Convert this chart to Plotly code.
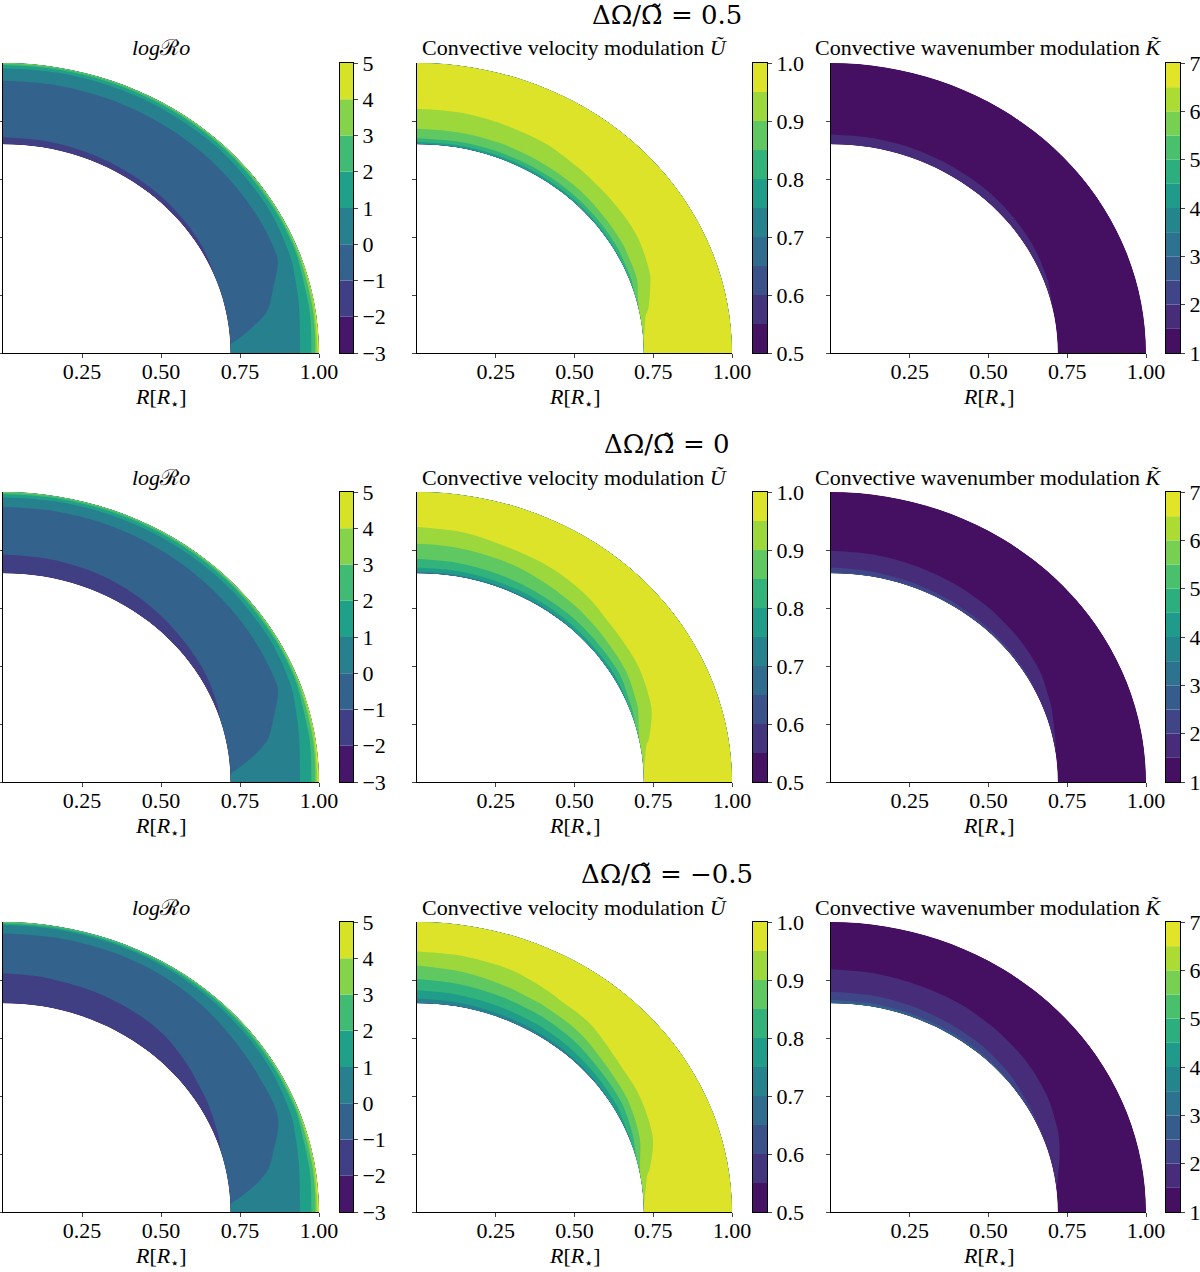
import numpy as np
import plotly.graph_objects as go
from plotly.colors import sample_colorscale

# grid: latitude (deg, from the equator) and radius (R/R*)
LATITUDE = [0, 10, 20, 30, 40, 50, 60, 70, 80, 90]
RADIUS_RO = [0.72, 0.76, 0.82, 0.88, 0.93, 0.96, 0.98, 0.99, 1.00]
RADIUS_UK = [0.72, 0.73, 0.75, 0.78, 0.82, 0.86, 0.90, 0.95, 1.00]

ROW_TITLES = ["ΔΩ/Ω̃ = 0.5", "ΔΩ/Ω̃ = 0", "ΔΩ/Ω̃ = −0.5"]
PANEL_TITLES = [
    "<i>log</i>ℛ<i>o</i>",
    "Convective velocity modulation <i>Ũ</i>",
    "Convective wavenumber modulation <i>K̃</i>",
]
XTICKS = [0.25, 0.5, 0.75, 1.0]
XTICK_TEXT = ["0.25", "0.50", "0.75", "1.00"]
YTICKS = [0, 0.2, 0.4, 0.6, 0.8]

# contour levels (start, end, step) and colorbar ticks per column
LEVELS = [(-3, 5, 1), (0.5, 1.0, 0.05), (1, 7, 0.5)]
CBAR_TICKS = [
    [-3, -2, -1, 0, 1, 2, 3, 4, 5],
    [0.5, 0.6, 0.7, 0.8, 0.9, 1.0],
    [1, 2, 3, 4, 5, 6, 7],
]
CBAR_FORMAT = ["d", ".1f", "d"]

# log Ro, rows = LATITUDE, columns = RADIUS_RO
logro_pos = [
    [0.22, 0.36, 0.45, 0.6, 0.85, 1.35, 2.2, 3.2, 4.8],
    [-0.72, -0.45, -0.12, 0.12, 0.6, 1.2, 1.9, 2.7, 4.4],
    [-1.02, -0.56, -0.4, -0.17, 0.02, 0.85, 1.25, 2.1, 4.1],
    [-1.17, -0.5, -0.42, -0.25, -0.07, 0.72, 1.07, 1.85, 3.85],
    [-1.28, -0.5, -0.41, -0.27, -0.09, 0.68, 1.03, 1.7, 3.7],
    [-1.38, -0.52, -0.41, -0.28, -0.11, 0.62, 0.95, 1.55, 3.6],
    [-1.45, -0.54, -0.41, -0.28, -0.13, 0.56, 0.92, 1.48, 3.5],
    [-1.52, -0.58, -0.43, -0.29, -0.14, 0.48, 0.91, 1.45, 3.45],
    [-1.58, -0.62, -0.44, -0.3, -0.15, 0.43, 0.9, 1.42, 3.42],
    [-1.6, -0.64, -0.45, -0.3, -0.15, 0.41, 0.9, 1.4, 3.4],
]
logro_zero = [
    [0.22, 0.36, 0.45, 0.6, 0.85, 1.35, 2.2, 3.2, 4.8],
    [-0.75, -0.47, -0.13, 0.12, 0.6, 1.2, 1.9, 2.7, 4.4],
    [-1.08, -0.62, -0.42, -0.19, 0.015, 0.82, 1.23, 2.1, 4.1],
    [-1.3, -0.76, -0.48, -0.27, -0.07, 0.66, 1.07, 1.85, 3.85],
    [-1.42, -0.88, -0.51, -0.32, -0.12, 0.52, 1.02, 1.7, 3.7],
    [-1.52, -1.02, -0.54, -0.36, -0.17, 0.38, 0.96, 1.58, 3.6],
    [-1.6, -1.12, -0.56, -0.38, -0.2, 0.27, 0.93, 1.5, 3.5],
    [-1.65, -1.22, -0.58, -0.39, -0.23, 0.2, 0.91, 1.47, 3.45],
    [-1.68, -1.27, -0.59, -0.4, -0.24, 0.17, 0.9, 1.46, 3.42],
    [-1.7, -1.3, -0.6, -0.4, -0.25, 0.15, 0.9, 1.45, 3.4],
]
logro_neg = [
    [0.22, 0.36, 0.45, 0.6, 0.85, 1.35, 2.2, 3.2, 4.8],
    [-0.76, -0.48, -0.14, 0.12, 0.6, 1.2, 1.9, 2.7, 4.4],
    [-1.1, -0.68, -0.46, -0.21, 0.01, 0.8, 1.2, 2.05, 4.1],
    [-1.35, -0.88, -0.56, -0.34, -0.1, 0.55, 1.02, 1.75, 3.8],
    [-1.52, -1.08, -0.68, -0.42, -0.18, 0.3, 0.85, 1.5, 3.55],
    [-1.63, -1.26, -0.82, -0.5, -0.26, 0.1, 0.7, 1.25, 3.4],
    [-1.7, -1.35, -0.9, -0.55, -0.3, 0.01, 0.62, 1.12, 3.3],
    [-1.75, -1.4, -0.95, -0.58, -0.33, -0.01, 0.58, 1.06, 3.25],
    [-1.78, -1.43, -0.99, -0.59, -0.34, -0.02, 0.56, 1.04, 3.22],
    [-1.8, -1.45, -1.02, -0.6, -0.35, -0.02, 0.55, 1.03, 3.2],
]

# convective velocity modulation U, rows = LATITUDE, columns = RADIUS_UK
u_pos = [
    [0.96, 0.965, 0.97, 0.973, 0.976, 0.979, 0.984, 0.99, 0.995],
    [0.92, 0.945, 0.958, 0.964, 0.97, 0.975, 0.982, 0.99, 0.995],
    [0.815, 0.873, 0.912, 0.947, 0.962, 0.972, 0.98, 0.99, 0.995],
    [0.78, 0.84, 0.895, 0.93, 0.96, 0.972, 0.98, 0.99, 0.995],
    [0.765, 0.83, 0.89, 0.924, 0.957, 0.971, 0.98, 0.99, 0.995],
    [0.755, 0.82, 0.885, 0.916, 0.952, 0.97, 0.98, 0.99, 0.995],
    [0.751, 0.816, 0.883, 0.912, 0.945, 0.967, 0.98, 0.99, 0.995],
    [0.745, 0.814, 0.882, 0.908, 0.942, 0.965, 0.98, 0.99, 0.995],
    [0.742, 0.812, 0.881, 0.906, 0.937, 0.963, 0.98, 0.99, 0.995],
    [0.74, 0.81, 0.88, 0.905, 0.935, 0.962, 0.98, 0.99, 0.995],
]
u_zero = [
    [0.96, 0.965, 0.97, 0.973, 0.976, 0.979, 0.984, 0.99, 0.995],
    [0.915, 0.943, 0.956, 0.963, 0.97, 0.976, 0.982, 0.99, 0.995],
    [0.802, 0.862, 0.907, 0.945, 0.965, 0.974, 0.98, 0.988, 0.993],
    [0.76, 0.81, 0.87, 0.925, 0.96, 0.972, 0.979, 0.987, 0.992],
    [0.745, 0.802, 0.857, 0.908, 0.952, 0.966, 0.975, 0.986, 0.991],
    [0.732, 0.79, 0.845, 0.89, 0.94, 0.962, 0.97, 0.985, 0.99],
    [0.728, 0.783, 0.84, 0.88, 0.922, 0.957, 0.968, 0.984, 0.99],
    [0.725, 0.777, 0.836, 0.87, 0.91, 0.951, 0.965, 0.982, 0.99],
    [0.722, 0.772, 0.832, 0.864, 0.903, 0.944, 0.962, 0.98, 0.99],
    [0.72, 0.77, 0.83, 0.86, 0.898, 0.94, 0.96, 0.98, 0.99],
]
u_neg = [
    [0.96, 0.965, 0.97, 0.973, 0.976, 0.979, 0.984, 0.99, 0.995],
    [0.905, 0.94, 0.955, 0.962, 0.969, 0.975, 0.981, 0.989, 0.994],
    [0.79, 0.842, 0.896, 0.943, 0.962, 0.972, 0.978, 0.988, 0.993],
    [0.752, 0.79, 0.848, 0.915, 0.958, 0.969, 0.976, 0.986, 0.992],
    [0.73, 0.772, 0.83, 0.893, 0.948, 0.966, 0.973, 0.985, 0.991],
    [0.715, 0.76, 0.81, 0.862, 0.922, 0.958, 0.967, 0.982, 0.99],
    [0.708, 0.752, 0.798, 0.846, 0.905, 0.948, 0.963, 0.98, 0.99],
    [0.702, 0.746, 0.791, 0.837, 0.892, 0.933, 0.959, 0.978, 0.99],
    [0.695, 0.74, 0.785, 0.827, 0.88, 0.92, 0.955, 0.976, 0.99],
    [0.69, 0.735, 0.78, 0.82, 0.87, 0.91, 0.952, 0.975, 0.99],
]

# convective wavenumber modulation K, rows = LATITUDE, columns = RADIUS_UK
k_pos = [
    [1.33, 1.3, 1.27, 1.24, 1.2, 1.17, 1.14, 1.12, 1.1],
    [1.45, 1.38, 1.32, 1.27, 1.21, 1.17, 1.14, 1.12, 1.1],
    [1.72, 1.52, 1.38, 1.3, 1.23, 1.18, 1.15, 1.12, 1.1],
    [1.86, 1.6, 1.42, 1.32, 1.24, 1.19, 1.15, 1.12, 1.1],
    [1.93, 1.65, 1.45, 1.33, 1.24, 1.19, 1.15, 1.12, 1.1],
    [1.98, 1.69, 1.48, 1.34, 1.25, 1.2, 1.15, 1.12, 1.1],
    [2.02, 1.71, 1.495, 1.345, 1.25, 1.2, 1.15, 1.12, 1.1],
    [2.03, 1.72, 1.51, 1.35, 1.25, 1.2, 1.15, 1.12, 1.1],
    [2.04, 1.74, 1.515, 1.35, 1.25, 1.2, 1.15, 1.12, 1.1],
    [2.05, 1.75, 1.52, 1.35, 1.25, 1.2, 1.15, 1.12, 1.1],
]
k_zero = [
    [1.33, 1.3, 1.27, 1.24, 1.2, 1.17, 1.14, 1.12, 1.1],
    [1.55, 1.45, 1.37, 1.3, 1.24, 1.2, 1.16, 1.13, 1.1],
    [1.9, 1.6, 1.47, 1.37, 1.3, 1.24, 1.19, 1.15, 1.11],
    [2.2, 1.8, 1.58, 1.43, 1.33, 1.27, 1.21, 1.15, 1.11],
    [2.4, 1.88, 1.66, 1.47, 1.35, 1.28, 1.22, 1.16, 1.11],
    [2.55, 1.97, 1.74, 1.51, 1.37, 1.3, 1.23, 1.16, 1.11],
    [2.64, 2.02, 1.8, 1.53, 1.38, 1.3, 1.23, 1.16, 1.11],
    [2.7, 2.05, 1.85, 1.55, 1.39, 1.31, 1.23, 1.16, 1.11],
    [2.76, 2.08, 1.88, 1.57, 1.4, 1.32, 1.24, 1.17, 1.12],
    [2.8, 2.1, 1.9, 1.58, 1.40, 1.32, 1.24, 1.17, 1.12],
]
k_neg = [
    [1.33, 1.3, 1.27, 1.24, 1.2, 1.17, 1.14, 1.12, 1.1],
    [1.62, 1.51, 1.43, 1.36, 1.29, 1.24, 1.19, 1.14, 1.1],
    [2.05, 1.72, 1.58, 1.46, 1.36, 1.29, 1.22, 1.16, 1.11],
    [2.45, 1.96, 1.73, 1.55, 1.41, 1.32, 1.24, 1.16, 1.11],
    [2.75, 2.15, 1.86, 1.63, 1.45, 1.35, 1.26, 1.17, 1.11],
    [2.95, 2.3, 1.96, 1.7, 1.49, 1.37, 1.27, 1.18, 1.12],
    [3.06, 2.39, 2.01, 1.74, 1.52, 1.39, 1.28, 1.19, 1.12],
    [3.15, 2.45, 2.05, 1.76, 1.53, 1.4, 1.29, 1.19, 1.12],
    [3.25, 2.52, 2.08, 1.79, 1.55, 1.41, 1.3, 1.2, 1.13],
    [3.3, 2.55, 2.1, 1.8, 1.56, 1.42, 1.3, 1.2, 1.13],
]

FIELDS = [
    [logro_pos, u_pos, k_pos],
    [logro_zero, u_zero, k_zero],
    [logro_neg, u_neg, k_neg],
]
RADII = [RADIUS_RO, RADIUS_UK, RADIUS_UK]

W, H = 1200, 1272
FONT = "Liberation Serif"
COL_PX = [(3, 319), (417, 732), (831, 1146)]
CBAR_PX = [(340, 353), (753, 767), (1166, 1180)]
ROW_PX = [(63, 353), (492, 782), (922, 1212)]


def px_x(v):
    return v / W


def px_y(v):
    return 1 - v / H


def ax_names(n):
    s = "" if n == 1 else str(n)
    return "xaxis" + s, "yaxis" + s, "x" + s, "y" + s


def band_colors(lo, hi, step):
    nb = int(round((hi - lo) / step))
    cols = sample_colorscale("Viridis", [(i + 0.5) / nb for i in range(nb)])
    return nb, cols


fig = go.Figure()
layout = {}
annotations = []
hidden_axis = dict(
    showgrid=False, showline=False, startline=False, endline=False,
    showticklabels="none", minorgridcount=0, smoothing=1,
)
lat_rad = np.radians(LATITUDE)

for r in range(3):
    top, bot = ROW_PX[r]
    ydom = [px_y(bot), px_y(top)]
    for c in range(3):
        n = r * 3 + c + 1
        xa, ya, xr, yr = ax_names(n)
        lo, hi, step = LEVELS[c]
        nb, cols = band_colors(lo, hi, step)
        # plotly colours each band at (level + step/2); place the band colours there
        cscale = [[0, cols[0]]] + [[(i + 1) / (nb + 1), cols[i]] for i in range(nb)] + [[1, cols[-1]]]

        rad = np.array(RADII[c])
        xs = np.outer(np.cos(lat_rad), rad)
        ys = np.outer(np.sin(lat_rad), rad)
        cid = f"carpet{n}"
        fig.add_trace(go.Carpet(
            a=RADII[c], b=LATITUDE, x=xs.tolist(), y=ys.tolist(), carpet=cid,
            aaxis=hidden_axis, baxis=hidden_axis, xaxis=xr, yaxis=yr,
        ))
        fig.add_trace(go.Contourcarpet(
            carpet=cid, a=RADII[c], b=LATITUDE, z=FIELDS[r][c],
            autocontour=False,
            contours=dict(start=lo, end=hi, size=step, coloring="fill", showlines=False),
            line=dict(width=0, smoothing=1), colorscale=cscale, showscale=False,
            xaxis=xr, yaxis=yr,
        ))

        x0, x1 = COL_PX[c]
        layout[xa] = dict(
            domain=[px_x(x0), px_x(x1)], range=[0, 1.0], anchor=yr, automargin=False,
            tickvals=XTICKS, ticktext=XTICK_TEXT, ticks="outside", ticklen=4,
            ticklabelstandoff=-5,
            showline=True, linecolor="black", linewidth=1, showgrid=False,
            zeroline=False, tickfont=dict(size=22, family=FONT, color="black"),
        )
        layout[ya] = dict(
            domain=ydom, range=[0, 1.0], anchor=xr, tickvals=YTICKS, automargin=False,
            ticks="outside", ticklen=4, showticklabels=False, showline=True,
            linecolor="black", linewidth=1, showgrid=False, zeroline=False,
        )

        # colour bar drawn as stacked bars on its own small axis
        m = 9 + n
        cxa, cya, cxr, cyr = ax_names(m)
        fig.add_trace(go.Bar(
            x=[0] * nb, y=[step] * nb, base=[lo + i * step for i in range(nb)],
            marker=dict(color=cols, line=dict(width=0)), width=1,
            xaxis=cxr, yaxis=cyr, hoverinfo="skip", showlegend=False,
        ))
        cx0, cx1 = CBAR_PX[c]
        layout[cxa] = dict(
            domain=[px_x(cx0), px_x(cx1)], range=[-0.5, 0.5], anchor=cyr, automargin=False,
            showticklabels=False, ticks="", showline=True, mirror=True,
            linecolor="black", linewidth=1, showgrid=False, zeroline=False,
        )
        layout[cya] = dict(
            domain=ydom, range=[lo, hi], anchor=cxr, side="right", automargin=False,
            tickvals=CBAR_TICKS[c], tickformat=CBAR_FORMAT[c], ticks="outside",
            ticklen=4, showline=True, mirror=True, linecolor="black", linewidth=1,
            showgrid=False, zeroline=False,
            tickfont=dict(size=22, family=FONT, color="black"),
        )

        xc = px_x((x0 + x1) / 2)
        annotations.append(dict(
            text=PANEL_TITLES[c], x=xc, y=px_y(top - 15), xref="paper", yref="paper",
            showarrow=False, font=dict(size=22, family=FONT, color="black"),
            xanchor="center", yanchor="middle",
        ))
        annotations.append(dict(
            text="<i>R</i>[<i>R</i><sub>⋆</sub>]", x=xc, y=px_y(bot + 45),
            xref="paper", yref="paper", showarrow=False,
            font=dict(size=22, family=FONT, color="black"),
            xanchor="center", yanchor="middle",
        ))
    annotations.append(dict(
        text=ROW_TITLES[r], x=px_x(667), y=px_y(top - 48), xref="paper", yref="paper",
        showarrow=False, font=dict(size=26, family="DejaVu Serif", color="black"),
        xanchor="center", yanchor="middle",
    ))

fig.update_layout(
    width=W, height=H, margin=dict(l=0, r=0, t=0, b=0),
    plot_bgcolor="white", paper_bgcolor="white", showlegend=False,
    barmode="overlay", annotations=annotations,
    font=dict(family=FONT, size=22, color="black"),
    **layout,
)
# the page's default body margin would shift the figure by 8 px
fig.write_html(
    "out.html",
    config={"displayModeBar": False},
    post_script="document.body.style.margin='0';document.body.style.overflow='hidden';",
)
